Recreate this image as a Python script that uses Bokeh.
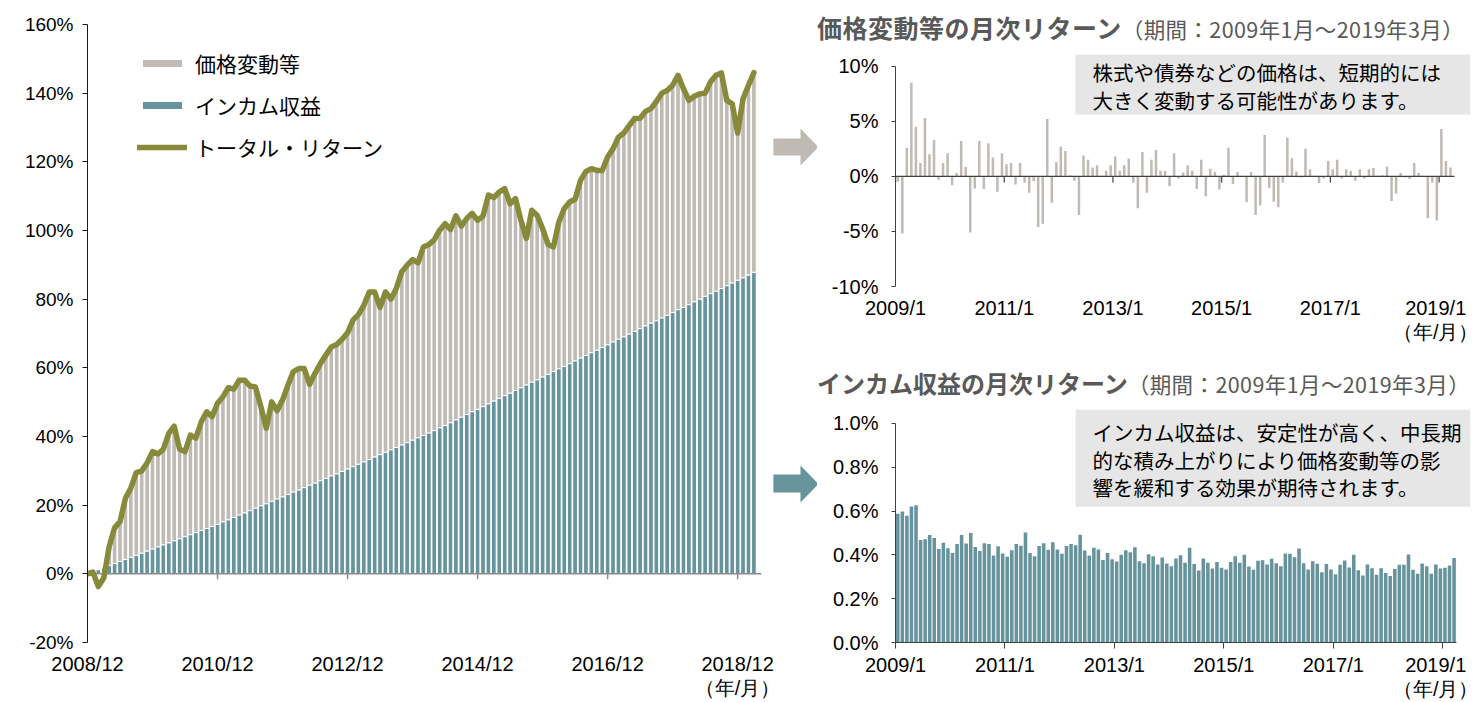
from bokeh.plotting import figure
from bokeh.layouts import row, column
from bokeh.models import (Range1d, FixedTicker, PrintfTickFormatter, Legend, LegendItem,
                          ColumnDataSource, Div)
from bokeh.embed import file_html
from bokeh.resources import INLINE
from bokeh.core.properties import value

# ---------------- data ----------------
# cumulative total return (%) 2008/12 .. 2019/3 (124 months)
total_cum = [0.0, 0.5, -3.7, -1.2, 7.9, 13.4, 15.2, 22.0, 25.0, 29.5,
             30.0, 32.3, 35.6, 34.9, 36.3, 40.9, 43.0, 36.3, 35.6, 40.4,
             39.5, 44.3, 47.2, 45.8, 49.7, 51.6, 54.2, 53.8, 56.4, 56.4,
             54.7, 54.4, 48.7, 42.4, 50.1, 47.5, 50.6, 55.0, 58.9, 59.8,
             59.8, 55.2, 58.4, 61.3, 63.7, 66.1, 66.8, 68.3, 70.2, 73.9,
             75.5, 78.2, 82.1, 82.1, 77.6, 82.1, 80.0, 83.1, 88.0, 89.9,
             91.5, 90.6, 95.2, 95.9, 97.3, 100.1, 102.0, 100.3, 104.3, 101.3,
             103.5, 105.0, 103.0, 104.2, 110.3, 109.6, 111.2, 112.2, 107.8, 109.3,
             103.0, 97.7, 105.9, 104.4, 100.6, 96.0, 95.2, 102.5, 106.4, 108.3,
             109.1, 114.6, 117.2, 118.0, 117.5, 117.5, 121.4, 123.8, 127.2, 128.4,
             130.6, 132.6, 132.7, 134.7, 135.5, 137.6, 140.0, 140.8, 142.3, 145.2,
             141.3, 137.9, 139.1, 139.8, 140.0, 143.3, 145.2, 145.9, 137.9, 136.9,
             128.4, 138.4, 142.3, 146.0]

# cumulative income contribution (%)
income_cum = [0.0, 0.6, 1.2, 1.7, 2.4, 3.0, 3.6, 4.2, 4.8, 5.4,
              6.0, 6.6, 7.2, 7.8, 8.4, 9.0, 9.6, 10.2, 10.8, 11.4,
              12.0, 12.6, 13.2, 13.8, 14.4, 15.1, 15.7, 16.4, 17.1, 17.7,
              18.4, 19.1, 19.8, 20.4, 21.1, 21.8, 22.4, 23.1, 23.8, 24.4,
              25.1, 25.8, 26.4, 27.1, 27.8, 28.5, 29.1, 29.8, 30.5, 31.2,
              31.9, 32.6, 33.3, 34.0, 34.7, 35.4, 36.1, 36.8, 37.5, 38.2,
              38.9, 39.6, 40.3, 41.0, 41.7, 42.5, 43.2, 44.0, 44.8, 45.6,
              46.4, 47.2, 47.9, 48.7, 49.5, 50.3, 51.1, 51.9, 52.6, 53.4,
              54.2, 55.0, 55.8, 56.5, 57.3, 58.1, 58.9, 59.7, 60.4, 61.2,
              62.0, 62.8, 63.6, 64.4, 65.1, 65.9, 66.7, 67.5, 68.3, 69.0,
              69.8, 70.6, 71.4, 72.2, 73.0, 73.7, 74.5, 75.3, 76.1, 76.9,
              77.6, 78.4, 79.2, 80.0, 80.8, 81.6, 82.3, 83.1, 83.9, 84.7,
              85.5, 86.2, 87.0, 87.8]

# monthly price return (%) 2009/1 .. 2019/3 (123 months)
price_monthly = [-0.5, -5.2, 2.6, 8.5, 4.5, 1.2, 5.3, 2.0, 3.3, -0.3,
                 1.2, 2.1, -0.8, 0.3, 3.2, 0.85, -5.1, -1.1, 3.2, -1.15,
                 3.0, 1.7, -1.4, 2.1, 1.1, 1.2, -0.75, 1.2, -0.55, -1.5,
                 -0.45, -4.6, -4.3, 5.2, -2.4, 1.3, 2.7, 2.3, 0.1, -0.4,
                 -3.5, 1.9, 1.5, 0.8, 1.0, 0.05, 0.5, 1.0, 1.8, 0.5,
                 1.0, 1.6, -0.55, -2.9, 2.2, -1.5, 1.5, 2.4, 0.5, 0.5,
                 -0.9, 2.1, -0.2, 0.35, 1.0, 0.5, -1.15, 1.5, -1.8, 0.7,
                 0.4, -1.2, 0.15, 2.6, -0.7, 0.4, 0.05, -2.35, 0.4, -3.5,
                 -2.65, 3.75, -1.05, -2.3, -2.8, -0.55, 3.5, 1.65, 0.45, -0.1,
                 2.5, 0.65, 0.05, -0.6, -0.2, 1.4, 0.65, 1.5, -0.2, 0.65,
                 0.5, -0.4, 0.65, -0.2, 0.65, 0.75, 0.05, 0.1, 0.9, -2.25,
                 -1.55, 0.3, -0.1, -0.25, 1.2, 0.3, 0.05, -3.8, -0.55, -4.0,
                 4.3, 1.4, 0.8]

# monthly income return (%) 2009/1 .. 2019/3
income_monthly = [0.588, 0.598, 0.579, 0.621, 0.627, 0.468, 0.471, 0.491, 0.477, 0.427,
                  0.455, 0.430, 0.409, 0.450, 0.491, 0.452, 0.500, 0.436, 0.418, 0.453,
                  0.450, 0.397, 0.439, 0.406, 0.392, 0.421, 0.450, 0.442, 0.502, 0.408,
                  0.394, 0.441, 0.453, 0.423, 0.458, 0.424, 0.405, 0.441, 0.450, 0.444,
                  0.492, 0.420, 0.397, 0.432, 0.424, 0.377, 0.409, 0.380, 0.370, 0.400,
                  0.421, 0.412, 0.435, 0.371, 0.362, 0.403, 0.394, 0.356, 0.388, 0.361,
                  0.348, 0.383,
                  0.398, 0.364, 0.432, 0.358, 0.329, 0.383, 0.364, 0.338, 0.367, 0.341,
                  0.333, 0.368, 0.394, 0.364, 0.400, 0.347, 0.332, 0.373, 0.376, 0.356,
                  0.382, 0.362, 0.348, 0.406, 0.405, 0.389, 0.429, 0.362, 0.333, 0.371,
                  0.359, 0.321, 0.358, 0.333, 0.312, 0.355, 0.374, 0.342, 0.400, 0.330,
                  0.306, 0.356, 0.339, 0.309, 0.339, 0.317, 0.303, 0.335, 0.355, 0.355,
                  0.402, 0.332, 0.314, 0.361, 0.348, 0.314, 0.356, 0.338, 0.341, 0.352,
                  0.386]

left_tick_pos = [0, 24, 48, 72, 96, 120]
left_tick_labels = ["2008/12", "2010/12", "2012/12", "2014/12", "2016/12", "2018/12\n（年/月）"]
right_tick_pos = [0, 24, 48, 72, 96, 120]
right_tick_labels = ["2009/1", "2011/1", "2013/1", "2015/1", "2017/1", "2019/1\n（年/月）"]
left_y_ticks = [-20, 0, 20, 40, 60, 80, 100, 120, 140, 160]
price_y_ticks = [-10, -5, 0, 5, 10]
income_y_ticks = [0.0, 0.2, 0.4, 0.6, 0.8, 1.0]

legend_labels = ["価格変動等", "インカム収益", "トータル・リターン"]
title_price = "価格変動等の月次リターン"
title_income = "インカム収益の月次リターン"
period_text = "（期間：2009年1月～2019年3月）"
box1_lines = ["株式や債券などの価格は、短期的には", "大きく変動する可能性があります。"]
box2_lines = ["インカム収益は、安定性が高く、中長期", "的な積み上がりにより価格変動等の影", "響を緩和する効果が期待されます。"]

GREY = "#BFBAB4"
TEAL = "#66939C"
OLIVE = "#868A3A"
BOXC = "#E6E6E6"
TITLEC = "#595959"
JP = "Noto Sans CJK JP"
NUM = "Liberation Sans"


def style_common(p):
    p.outline_line_color = None
    for g in p.grid:
        g.visible = False
    p.background_fill_color = "white"
    p.border_fill_color = "white"


def style_yaxis(ax, ticks, fmt, color, size, standoff, tick_out):
    ax.ticker = FixedTicker(ticks=ticks)
    ax.formatter = PrintfTickFormatter(format=fmt)
    ax.axis_line_color = color
    ax.major_tick_line_color = color
    ax.major_tick_out = tick_out
    ax.major_tick_in = 0
    ax.minor_tick_line_color = None
    ax.major_label_standoff = standoff
    ax.major_label_text_font = NUM
    ax.major_label_text_font_size = size
    ax.major_label_text_color = "black"


def style_xaxis(ax, ticks, labels, standoff):
    ax.ticker = FixedTicker(ticks=ticks)
    ax.major_label_overrides = {k: v for k, v in zip(ticks, labels)}
    ax.minor_tick_line_color = None
    ax.major_label_standoff = standoff
    ax.major_label_text_font = NUM
    ax.major_label_text_font_size = "20px"
    ax.major_label_text_color = "black"
    ax.major_label_text_line_height = 1.1


# ---------------- left: cumulative (frame 87..817 px, 5.418 px / month) ----------------
p1 = figure(width=817, height=702, x_range=Range1d(0, 134.74), y_range=Range1d(-20, 160),
            output_backend="svg", toolbar_location=None,
            min_border_left=87, min_border_right=0, min_border_top=24, min_border_bottom=60)
style_common(p1)

xs = list(range(len(total_cum)))
grey_top = [max(t, c) for t, c in zip(total_cum, income_cum)]
src1 = ColumnDataSource(dict(x=xs[1:], inc=income_cum[1:], top=grey_top[1:]))
r_grey = p1.vbar(x="x", width=0.86, bottom="inc", top="top", source=src1,
                 fill_color=GREY, line_color="white", line_width=1)
r_teal = p1.vbar(x="x", width=0.86, bottom=0, top="inc", source=src1,
                 fill_color=TEAL, line_color="white", line_width=1)
p1.segment(x0=[0], x1=[124.4], y0=[0], y1=[0], line_color="#8C8C8C", line_width=1.5)
p1.segment(x0=left_tick_pos[1:], x1=left_tick_pos[1:], y0=[0] * 5, y1=[-1.6] * 5,
           line_color="#8C8C8C", line_width=1.5)
r_line = p1.line(x=xs, y=total_cum, line_color=OLIVE, line_width=5.5,
                 line_join="round", line_cap="round")

# arrows pointing to the right-hand charts (decoration)
p1.patch(x=[126.6, 131.6, 131.6, 134.9, 131.6, 131.6, 126.6],
         y=[126.80, 126.80, 129.71, 124.32, 118.93, 121.84, 121.84],
         fill_color=GREY, line_color=None)
p1.patch(x=[126.6, 131.6, 131.6, 134.9, 131.6, 131.6, 126.6],
         y=[28.93, 28.93, 31.55, 26.16, 20.78, 23.69, 23.69],
         fill_color=TEAL, line_color=None)

style_yaxis(p1.yaxis[0], left_y_ticks, "%d%%", "#1A1A1A", "19px", 9, 5)
xa = p1.xaxis[0]
style_xaxis(xa, left_tick_pos, left_tick_labels, 10)
xa.axis_line_color = None
xa.major_tick_line_color = None
xa.major_tick_out = 0

legend = Legend(items=[LegendItem(label=legend_labels[0], renderers=[r_grey]),
                       LegendItem(label=legend_labels[1], renderers=[r_teal]),
                       LegendItem(label=legend_labels[2], renderers=[r_line])],
                location=(50, 480), glyph_width=50, glyph_height=10, label_standoff=8,
                spacing=12, label_height=28, padding=0, margin=0,
                border_line_color=None, background_fill_alpha=0,
                label_text_font=JP, label_text_font_size="21px", label_text_color="black")
p1.add_layout(legend)


# ---------------- title strips (HTML text) ----------------
def title_div(h, pad_top, title, size, spacing):
    html = ('<div style="white-space:nowrap;padding-top:%dpx;line-height:30px;margin:0;'
            'font-family:\'Noto Sans CJK JP\';color:%s;">'
            '<span style="font-weight:bold;font-size:%s;letter-spacing:%s;">%s</span>'
            '<span style="font-size:21.5px;letter-spacing:0.4px;">%s</span></div>'
            % (pad_top, TITLEC, size, spacing, title, period_text))
    return Div(text=html, width=661, height=h, margin=(0, 0, 0, 0),
               styles={"padding": "0", "margin": "0", "overflow": "visible"})


t1 = title_div(50, 12, title_price, "25px", "0.5px")
t2 = title_div(49, 17, title_income, "24px", "0px")

# ---------------- right top: monthly price (frame 895..1470, 54..286) ----------------
p2 = figure(width=661, height=301, x_range=Range1d(0, 126.93), y_range=Range1d(-10, 11.06),
            output_backend="svg", toolbar_location=None,
            min_border_left=78, min_border_right=8, min_border_top=4, min_border_bottom=65)
style_common(p2)
kx = [k + 0.5 for k in range(len(price_monthly))]
p2.quad(left=[39.7], right=[126.93], top=[11.06], bottom=[5.62], fill_color=BOXC, line_color=None)
p2.vbar(x=kx, width=0.55, top=price_monthly, bottom=0, fill_color=GREY, line_color=None)
p2.segment(x0=[0], x1=[123.4], y0=[0], y1=[0], line_color="#404040", line_width=1.2)
p2.segment(x0=right_tick_pos, x1=right_tick_pos, y0=[0] * 6, y1=[-0.55] * 6,
           line_color="#404040", line_width=1.2)
p2.text(x=[43.5, 43.5], y=[9.43, 6.89], text=box1_lines, text_font=value(JP),
        text_font_size="20.5px", text_baseline="middle", text_align="left", text_color="black")

ya = p2.yaxis[0]
style_yaxis(ya, price_y_ticks, "%d%%", "#404040", "20px", 13, 4)
ya.bounds = (-10, 10)
xa = p2.xaxis[0]
style_xaxis(xa, right_tick_pos, right_tick_labels, 10)
xa.axis_line_color = None
xa.major_tick_line_color = None
xa.major_tick_out = 0

# ---------------- right bottom: monthly income (frame 895..1470, 409..643) ----------------
p3 = figure(width=661, height=302, x_range=Range1d(0, 126.1), y_range=Range1d(0, 1.0636),
            output_backend="svg", toolbar_location=None,
            min_border_left=78, min_border_right=8, min_border_top=9, min_border_bottom=59)
style_common(p3)
kx3 = [k + 0.5 for k in range(len(income_monthly))]
p3.quad(left=[39.5], right=[126.1], top=[1.0636], bottom=[0.62], fill_color=BOXC, line_color=None)
p3.vbar(x=kx3, width=0.78, top=income_monthly, bottom=0, fill_color=TEAL, line_color=None)
p3.text(x=[43.2] * 3, y=[0.96, 0.8336, 0.7105], text=box2_lines, text_font=value(JP),
        text_font_size="20.5px", text_baseline="middle", text_align="left", text_color="black")

ya = p3.yaxis[0]
style_yaxis(ya, income_y_ticks, "%.1f%%", "#404040", "20px", 13, 4)
ya.bounds = (0, 1.0)
xa = p3.xaxis[0]
style_xaxis(xa, right_tick_pos, right_tick_labels, 5)
xa.bounds = (0, 123)
xa.axis_line_color = "#404040"
xa.axis_line_width = 1.2
xa.major_tick_line_color = "#404040"
xa.major_tick_out = 6
xa.major_tick_in = 0

layout = row(p1, column(t1, p2, t2, p3, spacing=0), spacing=0)
open("out.html", "w").write(file_html(layout, INLINE))
